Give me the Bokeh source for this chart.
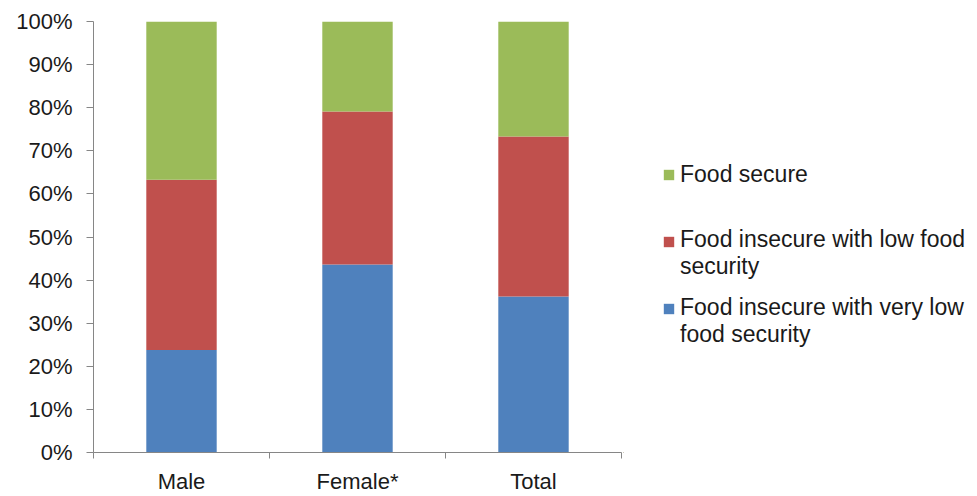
from bokeh.plotting import figure
from bokeh.layouts import row
from bokeh.models import Range1d, FixedTicker, Legend, LegendItem
from bokeh.embed import file_html
from bokeh.resources import INLINE

categories = ["Male", "Female*", "Total"]
very_low = [0.238, 0.436, 0.362]
low = [0.395, 0.355, 0.371]
secure = [0.367, 0.209, 0.267]

series_names = ["very_low", "low", "secure"]
legend_labels = [
    "Food insecure with very low\nfood security",
    "Food insecure with low food\nsecurity",
    "Food secure",
]
colors = ["#4F81BD", "#C0504D", "#9BBB59"]
y_ticks = [i / 10 for i in range(11)]

FONT = "Liberation Sans"
TXT = "#1a1a1a"
AXC = "#868686"

xc = [i + 0.5 for i in range(len(categories))]
data = dict(x=xc, very_low=very_low, low=low, secure=secure)

p = figure(width=623, height=496, output_backend="svg", toolbar_location=None,
           x_range=Range1d(0, len(categories)), y_range=Range1d(0, 1),
           min_border_left=93, min_border_right=2, min_border_top=21,
           min_border_bottom=44)
p.outline_line_color = None
p.grid.visible = False

rs = p.vbar_stack(series_names, x="x", width=0.4, color=colors, source=data,
                  line_color=None)

# y axis
p.yaxis.ticker = FixedTicker(ticks=y_ticks)
p.yaxis.major_label_overrides = {t: f"{round(t*100)}%" for t in y_ticks}
p.yaxis.major_tick_out = 7
p.yaxis.major_tick_in = 0
p.yaxis.minor_tick_out = 0
p.yaxis.minor_tick_in = 0
p.yaxis.major_label_standoff = 14
p.yaxis.axis_line_color = AXC
p.yaxis.major_tick_line_color = AXC
p.yaxis.major_label_text_font = FONT
p.yaxis.major_label_text_font_size = "22px"
p.yaxis.major_label_text_color = TXT

# x axis
p.xaxis.ticker = FixedTicker(ticks=xc, minor_ticks=list(range(len(categories) + 1)))
p.xaxis.major_label_overrides = {c: n for c, n in zip(xc, categories)}
p.xaxis.major_tick_out = 0
p.xaxis.major_tick_in = 0
p.xaxis.minor_tick_out = 6
p.xaxis.minor_tick_in = 0
p.xaxis.major_label_standoff = 10
p.xaxis.axis_line_color = AXC
p.xaxis.minor_tick_line_color = AXC
p.xaxis.major_label_text_font = FONT
p.xaxis.major_label_text_font_size = "22px"
p.xaxis.major_label_text_color = TXT

# legend panel (separate figure so the legend is not clipped by the bar frame)
lp = figure(width=354, height=496, output_backend="svg", toolbar_location=None,
            x_range=Range1d(10, 11), y_range=Range1d(10, 11),
            x_axis_type=None, y_axis_type=None,
            min_border_left=0, min_border_right=0, min_border_top=0,
            min_border_bottom=0)
lp.outline_line_color = None
lp.grid.visible = False
lrs = lp.vbar_stack(series_names, x="x", width=0.4, color=colors, source=data,
                    line_color=None)
blank = lp.vbar(x=[], top=[], width=0.4, fill_alpha=0, line_alpha=0)

legend_style = dict(padding=0, margin=0, spacing=0, glyph_width=13,
                    glyph_height=13, label_standoff=5,
                    border_line_color=None, background_fill_alpha=0,
                    label_text_font=FONT, label_text_font_size="23px",
                    label_text_color=TXT)

text_tops = [104, 172, 264]     # label blocks
glyph_tops = [137, 204, 271]    # swatch aligned with first label line
for r, lab, tt, gt in zip(lrs, legend_labels, text_tops, glyph_tops):
    # coloured swatch, next to the first line of the label
    lp.add_layout(Legend(items=[LegendItem(label=" ", renderers=[r])],
                         location=(39, gt), **legend_style), "center")
    # label text
    lp.add_layout(Legend(items=[LegendItem(label=lab, renderers=[blank])],
                         location=(39, tt), **legend_style), "center")

layout = row(p, lp)
open("out.html", "w").write(file_html(layout, INLINE))
